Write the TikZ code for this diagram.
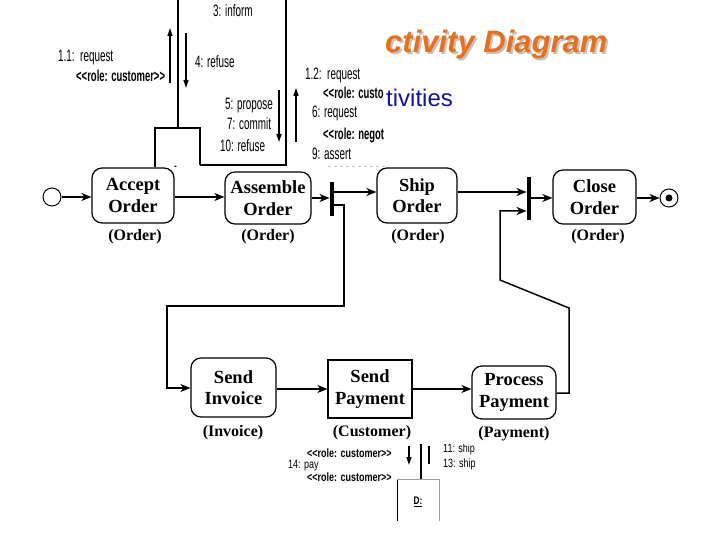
\documentclass[tikz,border=0pt]{standalone}
\usepackage{fontspec}
\setmainfont{Liberation Serif}
\newfontfamily\arialf{Liberation Sans}
\newfontfamily\narrowf[FakeStretch=0.6]{Liberation Sans}
\newfontfamily\smallnarrowf[FakeStretch=0.75]{Liberation Sans}
\usetikzlibrary{arrows.meta}
\definecolor{ttlorange}{RGB}{232,112,28}
\definecolor{ttlblue}{RGB}{20,20,160}
\definecolor{shadowgray}{RGB}{195,195,195}
\begin{document}
\begin{tikzpicture}[x=1pt,y=-1pt,
  act/.style={draw, line width=1.2pt, rounded corners=10pt, align=center,
    font=\fontsize{18.5}{21.5}\selectfont\bfseries, inner sep=0pt},
  plainact/.style={act, rounded corners=0pt},
  obj/.style={font=\fontsize{16}{18}\selectfont\bfseries, inner sep=0pt},
  syncbar/.style={fill=black, draw=none, minimum width=4.5pt, inner sep=0pt},
  conn/.style={line width=1.5pt},
  arr/.style={conn, -{Stealth[length=10pt,width=8pt,inset=3pt]}},
  msg/.style={font=\fontsize{16.5}{19}\selectfont\narrowf, inner sep=0pt, anchor=base west},
  msgb/.style={font=\fontsize{15.8}{19}\selectfont\narrowf\bfseries, inner sep=0pt, anchor=base west},
  smsg/.style={font=\fontsize{12}{14}\selectfont\smallnarrowf, inner sep=0pt, anchor=base west},
  smsgb/.style={font=\fontsize{12}{14}\selectfont\smallnarrowf\bfseries, inner sep=0pt, anchor=base west},
  marr/.style={line width=1.3pt, -{Triangle[length=8pt,width=5pt]}},
  cline/.style={line width=1.4pt}
]
\useasboundingbox (0,0) rectangle (720,540);
\fill[white] (0,0) rectangle (720,540);

% ---------- title texts ----------
\node[anchor=base west, inner sep=0pt, text=ttlorange, font=\fontsize{31}{35}\selectfont\arialf\bfseries\itshape] (title) at (385,53)
  {\rlap{\kern2pt\raisebox{-2pt}{\textcolor{shadowgray}{ctivity Diagram}}}ctivity Diagram};
\node[anchor=base west, inner sep=0pt, text=ttlblue, font=\fontsize{24}{28}\selectfont\arialf] (subtitle) at (386,107) {tivities};

% ---------- collaboration fragment (top) ----------
\begin{scope}
\clip (0,0) rectangle (385,167);
\coordinate (ltop) at (178,0);
\coordinate (ab1) at (155,175);
\coordinate (ab2) at (155,128);
\coordinate (ab3) at (200,128);
\coordinate (ab4) at (200,165);
\coordinate (br1) at (286,165);
\coordinate (br2) at (286,0);
\draw[cline] (ltop) -- (178,128);
\draw[cline] (ab1) -- (ab2) -- (ab3) -- (ab4);
\draw[line width=1.8pt] (ab4) -- (br1) -- (br2);
\node[font=\fontsize{12}{14}\selectfont\smallnarrowf\bfseries, inner sep=0pt] (alabel) at (177,170) {A:};
\node[msg] (m3) at (213,17) {3: inform};
\node[msg] (m11) at (58,62) {1.1:\ \ request};
\node[msgb] (m11r) at (76,82) {<<role: customer>>};
\node[msg] (m4) at (195,68) {4: refuse};
\node[msg] (m5) at (225,110) {5: propose};
\node[msg] (m7) at (227,130) {7: commit};
\node[msg] (m10) at (220,152) {10: refuse};
\node[msg] (m12) at (305,80) {1.2:\ \ request};
\node[msgb] (m12r) at (323,99) {<<role: custo};
\node[msg] (m6) at (312,118) {6: request};
\node[msgb] (m6r) at (323,140) {<<role: negot};
\node[msg] (m9) at (312,160) {9: assert};
\coordinate (a1s) at (170,83); \coordinate (a1e) at (170,28);
\coordinate (a2s) at (186,33); \coordinate (a2e) at (186,88);
\coordinate (a3s) at (279,90); \coordinate (a3e) at (279,142);
\coordinate (a4s) at (296,142); \coordinate (a4e) at (296,88);
\draw[marr] (a1s) -- (a1e);
\draw[marr] (a2s) -- (a2e);
\draw[marr] (a3s) -- (a3e);
\draw[marr] (a4s) -- (a4e);
\coordinate (dl1) at (328,166); \coordinate (dl2) at (385,166);
\draw[shadowgray, dashed, line width=0.6pt] (dl1) -- (dl2);
\end{scope}

% ---------- activity diagram ----------
\node[circle, draw, line width=1pt, minimum size=18pt, inner sep=0pt] (init) at (52,197) {};
\node[act, minimum width=82pt, minimum height=55pt] (accept) at (133,195.5) {Accept\\Order};
\node[act, minimum width=86pt, minimum height=52pt] (assemble) at (268,198) {Assemble\\Order};
\node[syncbar, minimum height=34pt] (bar1) at (332,199) {};
\node[act, minimum width=80pt, minimum height=55pt] (ship) at (417,195.5) {Ship\\Order};
\node[syncbar, minimum height=43pt] (bar2) at (529,198.5) {};
\node[act, minimum width=83pt, minimum height=54pt] (close) at (594.5,197) {Close\\Order};
\node[circle, draw, line width=1pt, minimum size=18pt, inner sep=0pt] (final) at (669,198) {};
\node[circle, fill=black, minimum size=7pt, inner sep=0pt] (finaldot) at (final.center) {};

\node[act, minimum width=85pt, minimum height=59pt] (invoice) at (233.5,387.5) {Send\\Invoice};
\node[plainact, minimum width=84pt, minimum height=58pt] (payment) at (370,389) {Send\\Payment};
\node[act, minimum width=84pt, minimum height=53pt] (process) at (514,392.5) {Process\\Payment};

\node[obj] (o1) at (135,237) {(Order)};
\node[obj] (o2) at (268,237) {(Order)};
\node[obj] (o3) at (418,237) {(Order)};
\node[obj] (o4) at (598,237) {(Order)};
\node[obj] (o5) at (233,433) {(Invoice)};
\node[obj] (o6) at (372,433) {(Customer)};
\node[obj] (o7) at (514,434) {(Payment)};

\draw[arr] (init.east) -- (accept.west |- init.east);
\draw[arr] (accept.east |- 0,197) -- (assemble.west |- 0,197);
\draw[arr] (assemble.east) -- (bar1.west |- assemble.east);
\draw[arr] (bar1.east |- 0,192) -- (ship.west |- 0,192);
\draw[arr] (bar1.east |- 0,205) -- (344,205) -- (344,306) -- (167,306) -- (167,388) -- (invoice.west |- 0,388);
\draw[arr] (invoice.east |- 0,389) -- (payment.west |- 0,389);
\draw[arr] (payment.east |- 0,389) -- (process.west |- 0,389);
\draw[arr] (ship.east |- 0,192) -- (bar2.west |- 0,192);
\draw[arr] (process.east |- 0,393) -- (569,393) -- (569,308) -- (500,280) -- (500,211) -- (bar2.west |- 0,211);
\draw[arr] (bar2.east |- 0,198) -- (close.west |- 0,198);
\draw[arr] (close.east |- 0,198) -- (final.west);

% ---------- collaboration fragment (bottom) ----------
\begin{scope}
\clip (280,444) rectangle (490,524);
\node[smsgb] (b1) at (307,457) {<<role: customer>>};
\node[smsg] (b2) at (288,468) {14: pay};
\node[smsgb] (b3) at (307,481) {<<role: customer>>};
\node[smsg] (b4) at (443,452) {11: ship};
\node[smsg] (b5) at (443,467) {13: ship};
\coordinate (d1) at (397,521); \coordinate (d2) at (397,479);
\coordinate (d3) at (439,479); \coordinate (d4) at (439,521);
\draw[line width=1pt] (d1) -- (d2);
\draw[shadowgray!80!black, line width=0.8pt] (d2) -- (d3) -- (d4);
\node[font=\fontsize{11}{13}\selectfont\smallnarrowf\bfseries, inner sep=0pt] (dlabel) at (418,502) {\underline{D:}};
\coordinate (ba1) at (409,446); \coordinate (ba2) at (409,465);
\draw[marr, line width=1.2pt] (ba1) -- (ba2);
\coordinate (bl1) at (421,444); \coordinate (bl2) at (421,479);
\draw[line width=1.3pt] (bl1) -- (bl2);
\coordinate (bl3) at (429,446); \coordinate (bl4) at (429,464);
\draw[line width=1.3pt] (bl3) -- (bl4);
\end{scope}
\end{tikzpicture}
\end{document}
